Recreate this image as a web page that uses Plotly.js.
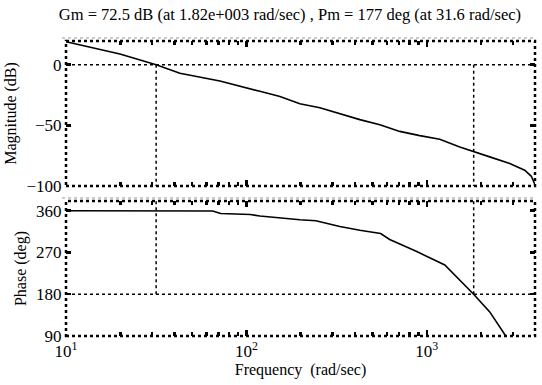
<!DOCTYPE html>
<html>
<head>
<meta charset="utf-8">
<script src="https://cdn.plot.ly/plotly-3.0.1.min.js"></script>
<style>html,body{margin:0;padding:0;background:#fff;}#chart{width:542px;height:385px;}</style>
</head>
<body>
<div id="chart"></div>
<script>
// ---- data ----
var magFreq = [10, 19.9, 31.6, 42.8, 71.3, 92, 118.8, 153.5, 197.9, 255.5, 329.6, 425.6, 549.5, 708.5, 914.6, 1180, 1524, 1820, 2234, 2884, 3491, 3800, 3981];
var magDb   = [18.9, 8.8, 0, -7.1, -13.5, -18, -22, -26.2, -32.2, -35.5, -40.4, -45.3, -49.5, -55, -58.5, -61.5, -67.8, -71.8, -76, -81.4, -87, -92, -99];
var phFreq  = [10, 31.6, 65, 72, 105, 118.8, 153.5, 197.9, 242.7, 329.6, 425.6, 555, 623, 880, 1259, 1820, 2234, 2740];
var phDeg   = [360, 359.5, 359.5, 354, 352, 348.6, 344, 340.5, 338.5, 326, 318, 311, 298, 272, 243, 180, 142, 90];
var crossFreqs = [31.6, 1820];          // Pm and Gm frequencies
var magMarginY = [0, -100];             // vertical markers in magnitude plot
var phMarginY  = [180, 381];            // vertical markers in phase plot
var xTickVals  = [10, 100, 1000];
var xTickText  = ['10<sup>1</sup>', '10<sup>2</sup>', '10<sup>3</sup>'];
var xMinorVals = [20,30,40,50,60,70,80,90,200,300,400,500,600,700,800,900,2000,3000];
var magTicks   = [-100, -50, 0];
var phTicks    = [90, 180, 270, 360];
var titleText  = 'Gm = 72.5 dB (at 1.82e+003 rad/sec) , Pm = 177 deg (at 31.6 rad/sec)';

var FAMILY = 'Liberation Serif';
var black = '#000';

var traces = [
  {x: magFreq, y: magDb, xaxis: 'x', yaxis: 'y', mode: 'lines', line: {color: black, width: 1.6}, hoverinfo: 'skip'},
  {x: phFreq, y: phDeg, xaxis: 'x2', yaxis: 'y2', mode: 'lines', line: {color: black, width: 1.6}, hoverinfo: 'skip'}
];
crossFreqs.forEach(function (f) {
  traces.push({x: [f, f], y: magMarginY, xaxis: 'x', yaxis: 'y', mode: 'lines', line: {color: black, width: 1.5, dash: 'dot'}, hoverinfo: 'skip'});
  traces.push({x: [f, f], y: phMarginY, xaxis: 'x2', yaxis: 'y2', mode: 'lines', line: {color: black, width: 1.5, dash: 'dot'}, hoverinfo: 'skip'});
});

function xAxis(showLabels, anchor) {
  return {
    type: 'log', range: [1, 3.6], anchor: anchor,
    tickvals: xTickVals, ticktext: showLabels ? xTickText : ['', '', ''],
    ticks: 'inside', ticklen: 6, tickwidth: 2.5, tickcolor: black, mirror: 'allticks',
    minor: {tickvals: xMinorVals, ticks: 'inside', ticklen: 4, tickwidth: 2.5, tickcolor: black},
    showgrid: false, zeroline: false, showline: true, linecolor: 'rgba(0,0,0,0)', linewidth: 1,
    tickfont: {family: FAMILY, size: 17, color: black}
  };
}
function yAxis(range, ticks, domain, title, anchor) {
  return {
    range: range, domain: domain, anchor: anchor,
    tickvals: ticks, ticks: 'inside', ticklen: 5, tickwidth: 2.5, tickcolor: black, mirror: 'allticks',
    showgrid: false, zeroline: false, showline: true, linecolor: 'rgba(0,0,0,0)', linewidth: 1,
    tickfont: {family: FAMILY, size: 17, color: black},
    title: {text: title, font: {family: FAMILY, size: 16, color: black}, standoff: 5}
  };
}

var xa = xAxis(false, 'y');
var xa2 = xAxis(true, 'y2');
xa2.title = {text: 'Frequency  (rad/sec)', font: {family: FAMILY, size: 16, color: black}, standoff: 1};

var border = {color: black, width: 2.5, dash: 'dot'};
var layout = {
  width: 542, height: 385,
  font: {family: FAMILY, size: 16, color: black},
  margin: {l: 66, r: 7, t: 41, b: 49},
  paper_bgcolor: '#fff', plot_bgcolor: '#fff',
  showlegend: false,
  title: {text: titleText, font: {family: FAMILY, size: 16.5, color: black}, x: 0.535, xanchor: 'center', y: 0.963, yanchor: 'middle'},
  xaxis: xa,
  xaxis2: xa2,
  yaxis: yAxis([-100, 19.5], magTicks, [0.5085, 1], 'Magnitude (dB)', 'x'),
  yaxis2: yAxis([90, 381], phTicks, [0, 0.4576], 'Phase (deg)', 'x2'),
  shapes: [
    {type: 'rect', xref: 'x domain', yref: 'y domain', x0: 0, x1: 1, y0: 0, y1: 1, line: border, layer: 'below'},
    {type: 'rect', xref: 'x2 domain', yref: 'y2 domain', x0: 0, x1: 1, y0: 0, y1: 1, line: border, layer: 'below'},
    {type: 'line', xref: 'x domain', yref: 'y', x0: 0, x1: 1, y0: 0, y1: 0, line: {color: black, width: 1.5, dash: 'dot'}},
    {type: 'line', xref: 'x2 domain', yref: 'y2', x0: 0, x1: 1, y0: 180, y1: 180, line: {color: black, width: 1.5, dash: 'dot'}},
    {type: 'line', xref: 'paper', yref: 'paper', x0: -0.0085, x1: 1, y0: 1.0102, y1: 1.0102, line: {color: '#999', width: 1, dash: 'dot'}},
    {type: 'line', xref: 'paper', yref: 'paper', x0: -0.0085, x1: 1, y0: 0.4678, y1: 0.4678, line: {color: '#999', width: 1, dash: 'dot'}}
  ]
};

Plotly.newPlot('chart', traces, layout, {staticPlot: true, displayModeBar: false});
</script>
</body>
</html>
